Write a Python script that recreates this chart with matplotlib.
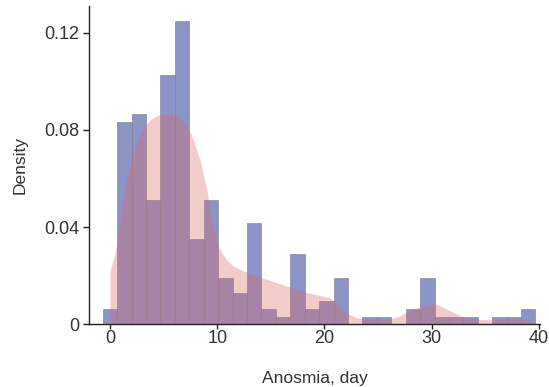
import numpy as np
import matplotlib
matplotlib.use('Agg')
import matplotlib.pyplot as plt

plt.rcParams['font.family'] = ['Liberation Sans', 'DejaVu Sans']

# histogram counts per bin (30 bins over 0..39 days)
counts = [2, 26, 27, 16, 32, 39, 11, 16, 6, 4,
          13, 2, 1, 9, 2, 3, 6, 0, 1, 1,
          0, 2, 6, 1, 1, 1, 0, 1, 1, 2]
day_min, day_max = 0, 39

# density curve
kde_x = [0, 0, 0.5, 1, 1.5, 2, 2.5, 3, 3.5, 4, 4.5, 5, 5.5, 6, 6.5, 7, 7.5,
         8, 8.5, 9, 9.5, 10, 10.5, 11, 11.5, 12, 13, 14, 15, 16, 17, 18,
         19, 20, 20.5, 21, 21.5, 22, 22.5, 23, 24, 25, 26, 27, 28, 29, 30,
         30.5, 31, 32, 33, 34, 35, 36, 37, 38, 39, 39]
kde_y = [0, 0.022, 0.030, 0.045, 0.058, 0.068, 0.075, 0.080, 0.083, 0.085,
         0.086, 0.0865, 0.0865, 0.086, 0.085, 0.0825, 0.079, 0.073, 0.066,
         0.056, 0.043, 0.033, 0.029, 0.026, 0.024, 0.023, 0.021, 0.0195,
         0.018, 0.0165, 0.015, 0.0135, 0.0125, 0.0115, 0.011, 0.009, 0.007,
         0.005, 0.0037, 0.0028, 0.0022, 0.002, 0.0022, 0.0035, 0.0058,
         0.0075, 0.0085, 0.0083, 0.0072, 0.005, 0.003, 0.0022, 0.002,
         0.0022, 0.0025, 0.0025, 0.0022, 0]

counts = np.array(counts)
nbins = len(counts)
width = (day_max - day_min) / (nbins - 1)
centers = day_min + width * np.arange(nbins)
density = counts / (counts.sum() * width)

fig = plt.figure(figsize=(5.49, 3.87), dpi=100)
ax = fig.add_axes([0.1627, 0.1615, 0.821, 0.823])

ax.bar(centers, density, width=width, color='#8c93c7',
       edgecolor='#7a7a8c', linewidth=0.4)
ax.fill_between(kde_x, kde_y, color='#dc6a6a', alpha=0.35, linewidth=0)

ax.set_xlim(-1.93, 40.1)
ax.set_ylim(0, 0.131)
ax.set_xticks([0, 10, 20, 30, 40])
ax.set_yticks([0, 0.04, 0.08, 0.12])
ax.set_yticklabels(['0', '0.04', '0.08', '0.12'])

for s in ['top', 'right']:
    ax.spines[s].set_visible(False)
for s in ['left', 'bottom']:
    ax.spines[s].set_color('#222222')
    ax.spines[s].set_linewidth(1.0)

ax.tick_params(axis='both', width=1.0, color='#222222',
               labelsize=13, labelcolor='#333333')
ax.tick_params(axis='x', length=3.5, pad=0.5)
ax.tick_params(axis='y', length=4.5, pad=2.5)
ax.set_xlabel('Anosmia, day', fontsize=12.5, color='#333333', labelpad=17)
ax.set_ylabel('Density', fontsize=12.5, color='#333333', labelpad=12)

fig.savefig('out.png', dpi=100)
plt.close()
